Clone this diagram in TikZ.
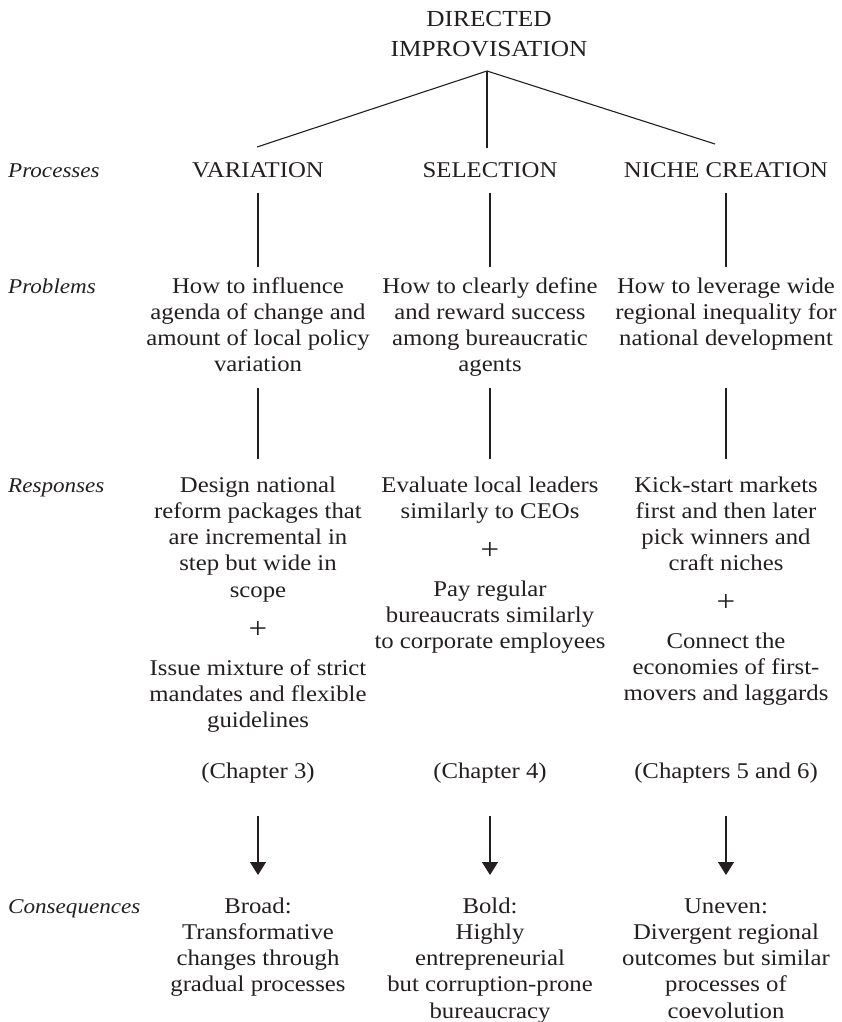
\documentclass[tikz,border=0pt]{standalone}
\usepackage{fontspec}
\setmainfont{Liberation Serif}[FakeStretch=1.1]
\usetikzlibrary{arrows.meta}
\definecolor{ink}{HTML}{231F20}

\begin{document}
\begin{tikzpicture}[x=1pt,y=-1pt,
  % multi-line nodes are anchored at the baseline of their last line
  txt/.style={anchor=base, align=center, inner sep=0pt, text=ink,
    font=\fontsize{22.5}{26.25}\selectfont},
  heading/.style={txt, font=\fontsize{23}{30}\selectfont},
  rowlabel/.style={anchor=base west, inner sep=0pt, text=ink,
    font=\fontsize{21}{26}\selectfont\itshape},
  plussign/.style={inner sep=0pt, text=ink, font=\fontsize{30}{30}\selectfont},
  link/.style={line width=1.1pt, draw=ink},
  arr/.style={link, -{Triangle[width=16pt,length=13pt]}}]

\useasboundingbox (0,0) rectangle (841,1022);

% column centres
\def\ca{258}\def\cb{490}\def\cc{726}

% title and the three processes
\node[heading] (title) at (489,57) {DIRECTED\\IMPROVISATION};
\coordinate (apex) at (487,71);
\coordinate (varTop) at (257,147);
\coordinate (selTop) at (487,148);
\coordinate (nicTop) at (715,144);
\draw[link] (varTop) -- (apex) -- (nicTop);
\draw[link] (apex) -- (selTop);

% row labels
\node[rowlabel] (lProc) at (8,177) {Processes};
\node[rowlabel] (lProb) at (8,293) {Problems};
\node[rowlabel] (lResp) at (8,492) {Responses};
\node[rowlabel] (lCons) at (8,913) {Consequences};

% processes
\node[txt] (var) at (\ca,177) {VARIATION};
\node[txt] (sel) at (\cb,177) {SELECTION};
\node[txt] (nic) at (\cc,177) {NICHE CREATION};

% problems
\node[txt] (probA) at (\ca,371.75) {How to influence\\agenda of change and\\amount of local policy\\variation};
\node[txt] (probB) at (\cb,371.75) {How to clearly define\\and reward success\\among bureaucratic\\agents};
\node[txt] (probC) at (\cc,345.5) {How to leverage wide\\regional inequality for\\national development};

% connectors between processes, problems and responses
\foreach \n/\x in {A/\ca,B/\cb,C/\cc}{
  \coordinate (p\n1) at (\x,193);
  \coordinate (p\n2) at (\x,267);
  \coordinate (q\n1) at (\x,388);
  \coordinate (q\n2) at (\x,459);
  \draw[link] (p\n1) -- (p\n2);
  \draw[link] (q\n1) -- (q\n2);
}

% responses
\node[txt] (respA1) at (\ca,597) {Design national\\reform packages that\\are incremental in\\step but wide in\\scope};
\node[plussign] (plusA) at (\ca,630) {+};
\node[txt] (respA2) at (\ca,727.5) {Issue mixture of strict\\mandates and flexible\\guidelines};

\node[txt] (respB1) at (\cb,518.25) {Evaluate local leaders\\similarly to CEOs};
\node[plussign] (plusB) at (\cb,551) {+};
\node[txt] (respB2) at (\cb,648.5) {Pay regular\\bureaucrats similarly\\to corporate employees};

\node[txt] (respC1) at (\cc,570.75) {Kick-start markets\\first and then later\\pick winners and\\craft niches};
\node[plussign] (plusC) at (\cc,603) {+};
\node[txt] (respC2) at (\cc,700.5) {Connect the\\economies of first-\\movers and laggards};

% chapters
\node[txt] (chA) at (\ca,778) {(Chapter 3)};
\node[txt] (chB) at (\cb,778) {(Chapter 4)};
\node[txt] (chC) at (\cc,778) {(Chapters 5 and 6)};

% arrows to consequences
\foreach \n/\x in {A/\ca,B/\cb,C/\cc}{
  \coordinate (a\n1) at (\x,816);
  \coordinate (a\n2) at (\x,875);
  \draw[arr] (a\n1) -- (a\n2);
}

% consequences
\node[txt] (consA) at (\ca,991.75) {Broad:\\Transformative\\changes through\\gradual processes};
\node[txt] (consB) at (\cb,1018) {Bold:\\Highly\\entrepreneurial\\but corruption-prone\\bureaucracy};
\node[txt] (consC) at (\cc,1018) {Uneven:\\Divergent regional\\outcomes but similar\\processes of\\coevolution};
\end{tikzpicture}
\end{document}
